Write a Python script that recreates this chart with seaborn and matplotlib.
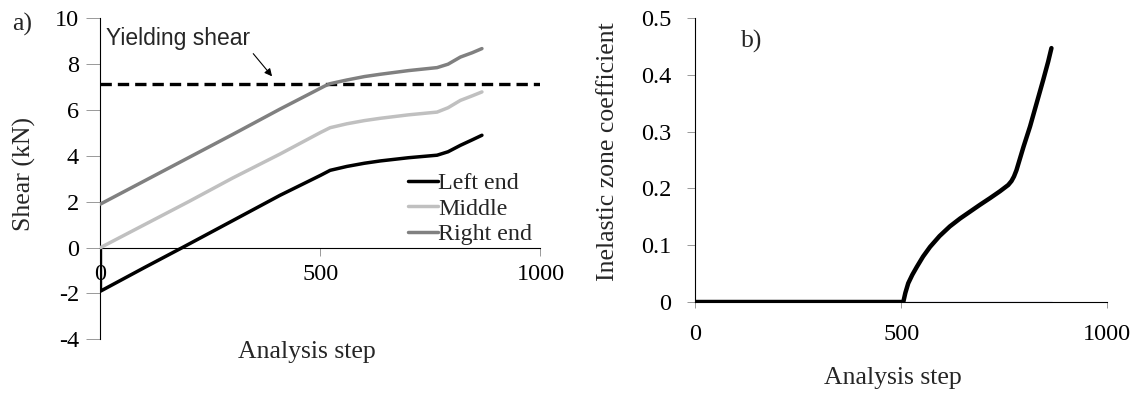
import matplotlib
matplotlib.use("Agg")
import matplotlib.pyplot as plt
import pandas as pd
import seaborn as sns

# panel a) shear at the three positions
left_step = [0, 0, 100, 186, 300, 408, 500, 522, 560, 600, 636, 700, 765, 790, 818, 845, 867]
left_shear = [0, -1.9, -0.87, 0.0, 1.17, 2.28, 3.15, 3.37, 3.54, 3.68, 3.78, 3.92, 4.03, 4.18, 4.46, 4.7, 4.9]

mid_step = [0, 100, 200, 300, 408, 500, 522, 560, 600, 636, 700, 765, 790, 818, 845, 867]
mid_shear = [0, 1.0, 2.0, 3.03, 4.08, 5.02, 5.23, 5.4, 5.54, 5.64, 5.79, 5.91, 6.1, 6.42, 6.62, 6.79]

right_step = [0, 100, 200, 300, 408, 510, 522, 560, 600, 636, 700, 765, 790, 818, 845, 867]
right_shear = [1.9, 2.91, 3.92, 4.93, 6.04, 7.05, 7.15, 7.31, 7.46, 7.56, 7.72, 7.85, 8.0, 8.31, 8.5, 8.68]

yield_shear = 7.12

# panel b) inelastic zone coefficient
coef_step = [0, 100, 200, 300, 400, 505, 510, 517, 527, 538, 553, 570, 593, 618, 643, 667, 691,
             716, 740, 760, 768, 774, 780, 797, 813, 829, 845, 857, 865]
coef_val = [0, 0, 0, 0, 0, 0, 0.016, 0.033, 0.048, 0.062, 0.08, 0.097, 0.116, 0.133, 0.147, 0.159,
            0.171, 0.183, 0.195, 0.206, 0.213, 0.221, 0.232, 0.273, 0.309, 0.35, 0.391, 0.423, 0.447]
zero_step = [505, 867]
zero_val = [0, 0]

series_names = ["Left end", "Middle", "Right end"]
series_colors = ["#000000", "#c0c0c0", "#808080"]

sns.set_style("white")
plt.rcParams["font.family"] = ["Liberation Serif", "DejaVu Serif"]
plt.rcParams["axes.unicode_minus"] = False

fig = plt.figure(figsize=(11.39, 3.94), dpi=100)
ax1 = fig.add_axes([0.0882, 0.1388, 0.3863, 0.8147])
ax2 = fig.add_axes([0.6106, 0.2335, 0.3613, 0.7208])

shear_df = pd.concat([
    pd.DataFrame({"step": left_step, "shear": left_shear, "pos": "Left end"}),
    pd.DataFrame({"step": mid_step, "shear": mid_shear, "pos": "Middle"}),
    pd.DataFrame({"step": right_step, "shear": right_shear, "pos": "Right end"}),
])

ax1.axhline(yield_shear, color="black", lw=2.4, ls=(0, (3.4, 1.8)), zorder=1)
sns.lineplot(data=shear_df, x="step", y="shear", hue="pos", hue_order=series_names,
             palette=series_colors, estimator=None, sort=False, lw=2.5, ax=ax1, zorder=3)

ax1.set_xlim(0, 1000)
ax1.set_ylim(-4, 10)
ax1.set_xticks([0, 500, 1000])
ax1.set_yticks(range(-4, 11, 2))
for s in ["top", "right"]:
    ax1.spines[s].set_visible(False)
ax1.spines["bottom"].set_position(("data", 0))
for s in ["left", "bottom"]:
    ax1.spines[s].set_color("black")
    ax1.spines[s].set_linewidth(0.8)
ax1.tick_params(axis="y", left=True, length=10, width=0.7, pad=5.5, labelsize=17.5,
                color="#999999", labelcolor="black")
ax1.tick_params(axis="x", bottom=True, length=6, width=0.7, pad=6, labelsize=17.5,
                color="#999999", labelcolor="black")
ax1.set_xlabel("Analysis step", fontsize=18.5, va="top")
ax1.set_ylabel("Shear (kN)", fontsize=18.5, va="center")
ax1.xaxis.set_label_coords(0.47, -0.006)
ax1.yaxis.set_label_coords(-0.172, 0.516)

ax1.legend(loc="upper left", bbox_to_anchor=(0.70, 0.52), frameon=False, fontsize=17.3,
           handlelength=1.25, handletextpad=0.0, borderpad=0, borderaxespad=0,
           labelspacing=0.15)

ax1.annotate("Yielding shear", xy=(390, 7.47), xytext=(13.5, 8.82), fontsize=16.5,
             family=["Liberation Sans", "DejaVu Sans"], va="baseline",
             arrowprops=dict(arrowstyle="-|>", color="black", lw=0.8, mutation_scale=11,
                             shrinkA=0, shrinkB=0, relpos=(1.0, 0.0)))
fig.text(0.011, 0.967, "a)", fontsize=18.5, va="top")

# panel b
sns.lineplot(x=zero_step, y=zero_val, color="#000080", lw=0.8, ax=ax2, zorder=2)
sns.lineplot(x=coef_step, y=coef_val, color="black", lw=3.2, estimator=None, sort=False,
             ax=ax2, zorder=3)
ax2.set_xlim(0, 1000)
ax2.set_ylim(0, 0.5)
ax2.set_xticks([0, 500, 1000])
ax2.set_yticks([0, 0.1, 0.2, 0.3, 0.4, 0.5])
ax2.set_yticklabels(["0", "0.1", "0.2", "0.3", "0.4", "0.5"])
for s in ["top", "right"]:
    ax2.spines[s].set_visible(False)
for s in ["left", "bottom"]:
    ax2.spines[s].set_color("black")
    ax2.spines[s].set_linewidth(0.8)
ax2.tick_params(axis="y", left=True, length=6, width=0.7, pad=11.5, labelsize=17.5,
                color="#999999", labelcolor="black")
ax2.tick_params(axis="x", bottom=True, length=4.5, width=0.7, pad=11, labelsize=17.5,
                color="#999999", labelcolor="black")
ax2.set_xlabel("Analysis step", fontsize=18.5, va="top")
ax2.set_ylabel("Inelastic zone coefficient", fontsize=18.5, va="center")
ax2.xaxis.set_label_coords(0.48, -0.228)
ax2.yaxis.set_label_coords(-0.2126, 0.528)
ax2.text(0.11, 0.958, "b)", transform=ax2.transAxes, fontsize=18.5, va="top")

fig.savefig("out.png", dpi=100)
